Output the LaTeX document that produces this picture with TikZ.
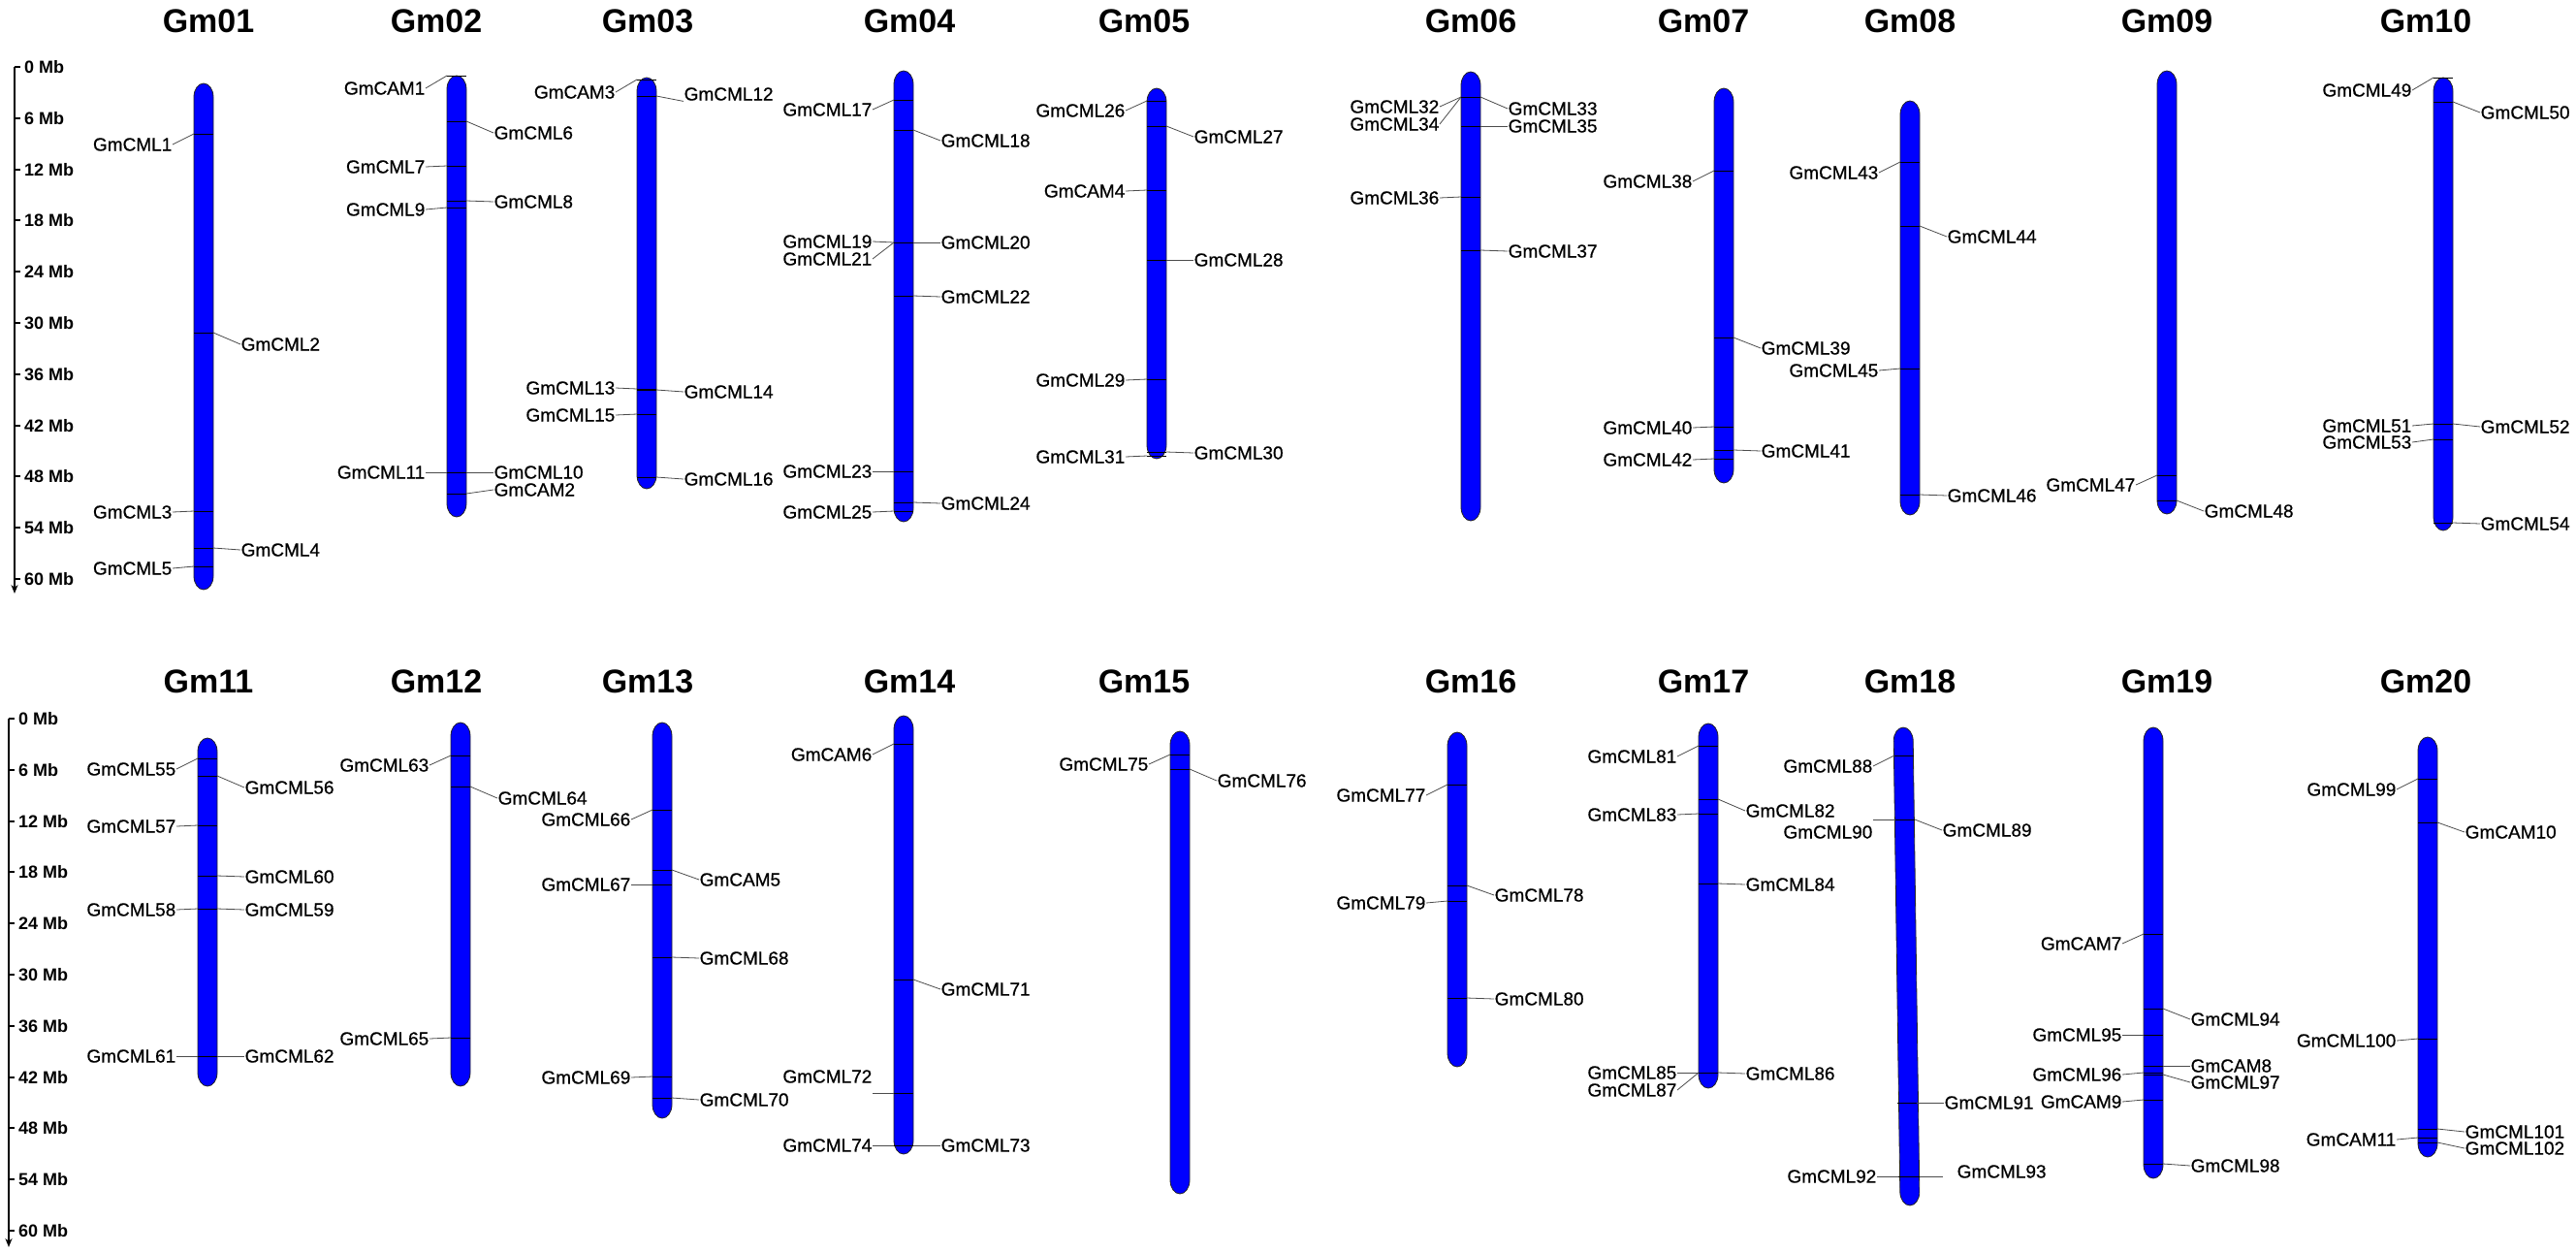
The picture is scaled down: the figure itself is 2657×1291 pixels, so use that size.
\documentclass[tikz,border=0pt]{standalone}
\usepackage{fontspec}
\setmainfont{Liberation Sans}
\newfontfamily\genefont[FakeBold=0.6]{Liberation Sans}
\usepackage{tikz}
\usetikzlibrary{arrows.meta}

% chromosome bar: centre x, top y, bottom y
\newcommand{\chrbar}[3]{%
  \draw[chr] (#1-10,#2+14) arc[start angle=180,end angle=0,x radius=10pt,y radius=14pt]
    -- (#1+10,#3-14) arc[start angle=0,end angle=-180,x radius=10pt,y radius=14pt] -- cycle;}
% gene on the left / right: centre x, gene y, label y, name
\newcommand{\geneL}[4]{%
  \coordinate (a#4) at (#1-10,#2);
  \draw[bandline] (a#4) -- ++(20,0);
  \node[genelabel,anchor=east] (#4) at (#1-32,#3) {#4};
  \draw[genelink] (a#4) -- (#4.east);}
\newcommand{\geneR}[4]{%
  \coordinate (a#4) at (#1+10,#2);
  \draw[bandline] (a#4) -- ++(-20,0);
  \node[genelabel,anchor=west] (#4) at (#1+38,#3) {#4};
  \draw[genelink] (a#4) -- (#4.west);}

\begin{document}
\begin{tikzpicture}[x=1pt,y=-1pt,
  chr/.style={fill=blue,draw=black!85,line width=0.8pt},
  bandline/.style={black,line width=1pt},
  genelink/.style={black!70,line width=0.8pt},
  genelabel/.style={inner sep=0.5pt,font=\genefont\fontsize{19pt}{19pt}\selectfont},
  chrtitle/.style={inner sep=0pt,font=\fontsize{34pt}{34pt}\selectfont\bfseries},
  mbtext/.style={inner sep=0pt,anchor=west,font=\fontsize{18pt}{18pt}\selectfont\bfseries}]
\useasboundingbox (0,0) rectangle (2657,1291);

% scales
\draw[line width=2.5pt,-{Stealth[length=9pt,width=7pt]}] (15,69) -- (15,612);
\foreach \m in {0,6,...,60}{
  \draw[line width=2pt] (15,69+8.8*\m) -- (21,69+8.8*\m);
  \node[mbtext] (ma\m) at (25,69+8.8*\m) {\m\ Mb};}
\draw[line width=2.5pt,-{Stealth[length=9pt,width=7pt]}] (9,741) -- (9,1286);
\foreach \m in {0,6,...,60}{
  \draw[line width=2pt] (9,741+8.8*\m) -- (15,741+8.8*\m);
  \node[mbtext] (mb\m) at (19,741+8.8*\m) {\m\ Mb};}

% titles
\foreach \n/\x in {01/215,02/450,03/668,04/938,05/1180,06/1517,07/1757,08/1970,09/2235,10/2502}
  \node[chrtitle] (t\n) at (\x,22) {Gm\n};
\foreach \n/\x in {11/215,12/450,13/668,14/938,15/1180,16/1517,17/1757,18/1970,19/2235,20/2502}
  \node[chrtitle] (t\n) at (\x,703) {Gm\n};

% chromosomes
\chrbar{210}{86}{608}
\chrbar{471}{78}{533}
\chrbar{667}{80}{504}
\chrbar{932}{73}{538}
\chrbar{1193}{91}{473}
\chrbar{1517}{74}{537}
\chrbar{1778}{91}{498}
\chrbar{1970}{104}{531}
\chrbar{2235}{73}{530}
\chrbar{2520}{80}{547}
\chrbar{214}{761}{1120}
\chrbar{475}{745}{1120}
\chrbar{683}{745}{1153}
\chrbar{932}{738}{1190}
\chrbar{1217}{754}{1231}
\chrbar{1503}{755}{1100}
\chrbar{1762}{746}{1122}
\begin{scope}[rotate around={0.81:(1966.5,996.5)}]
\chrbar{1966.5}{750}{1243}
\end{scope}
\chrbar{2221}{750}{1215}
\chrbar{2504}{760}{1193}

% Gm01
\geneL{210}{138}{149}{GmCML1}
\geneR{210}{343}{355}{GmCML2}
\geneL{210}{527}{528}{GmCML3}
\geneR{210}{565}{567}{GmCML4}
\geneL{210}{584}{586}{GmCML5}
% Gm02
\geneL{471}{78}{91}{GmCAM1}
\geneR{471}{125}{137}{GmCML6}
\geneL{471}{171}{172}{GmCML7}
\geneR{471}{207}{208}{GmCML8}
\geneL{471}{214}{216}{GmCML9}
\geneL{471}{487}{487}{GmCML11}
\geneR{471}{487}{487}{GmCML10}
\geneR{471}{509}{505}{GmCAM2}
% Gm03
\geneL{667}{82}{95}{GmCAM3}
\coordinate (aGmCML12) at (677,99);
\draw[bandline] (aGmCML12) -- ++(-20,0);
\node[genelabel,anchor=west] (GmCML12) at (705,97) {GmCML12};
\draw[genelink] (aGmCML12) -- (GmCML12.south west);
\geneL{667}{401}{400}{GmCML13}
\geneR{667}{402}{404}{GmCML14}
\geneL{667}{427}{428}{GmCML15}
\geneR{667}{492}{494}{GmCML16}
% Gm04
\geneL{932}{103}{113}{GmCML17}
\geneR{932}{134}{145}{GmCML18}
\geneL{932}{250}{249}{GmCML19}
\geneL{932}{250}{267}{GmCML21}
\geneR{932}{250}{250}{GmCML20}
\geneR{932}{305}{306}{GmCML22}
\geneL{932}{486}{486}{GmCML23}
\geneR{932}{518}{519}{GmCML24}
\geneL{932}{527}{528}{GmCML25}
% Gm05
\geneL{1193}{104}{114}{GmCML26}
\geneR{1193}{130}{141}{GmCML27}
\geneL{1193}{196}{197}{GmCAM4}
\geneR{1193}{268}{268}{GmCML28}
\geneL{1193}{391}{392}{GmCML29}
\geneR{1193}{466}{467}{GmCML30}
\geneL{1193}{470}{471}{GmCML31}
% Gm06
\geneL{1517}{100}{110}{GmCML32}
\geneL{1517}{100}{128}{GmCML34}
\geneR{1517}{100}{112}{GmCML33}
\geneR{1517}{130}{130}{GmCML35}
\geneL{1517}{203}{204}{GmCML36}
\geneR{1517}{258}{259}{GmCML37}
% Gm07
\geneL{1778}{176}{187}{GmCML38}
\geneR{1778}{348}{359}{GmCML39}
\geneL{1778}{440}{441}{GmCML40}
\geneR{1778}{464}{465}{GmCML41}
\geneL{1778}{473}{474}{GmCML42}
% Gm08
\geneL{1970}{167}{178}{GmCML43}
\geneR{1970}{233}{244}{GmCML44}
\geneL{1970}{380}{382}{GmCML45}
\geneR{1970}{510}{511}{GmCML46}
% Gm09
\geneL{2235}{490}{500}{GmCML47}
\geneR{2235}{516}{527}{GmCML48}
% Gm10
\geneL{2520}{80}{93}{GmCML49}
\geneR{2520}{105}{116}{GmCML50}
\geneL{2520}{437}{439}{GmCML51}
\geneR{2520}{437}{440}{GmCML52}
\geneL{2520}{453}{456}{GmCML53}
\geneR{2520}{539}{540}{GmCML54}

% Gm11
\geneL{214}{782}{793}{GmCML55}
\geneR{214}{800}{812}{GmCML56}
\geneL{214}{851}{852}{GmCML57}
\geneR{214}{903}{904}{GmCML60}
\geneL{214}{937}{938}{GmCML58}
\geneR{214}{937}{938}{GmCML59}
\geneL{214}{1089}{1089}{GmCML61}
\geneR{214}{1089}{1089}{GmCML62}
% Gm12
\geneL{475}{779}{789}{GmCML63}
\geneR{475}{811}{823}{GmCML64}
\geneL{475}{1070}{1071}{GmCML65}
% Gm13
\geneL{683}{835}{845}{GmCML66}
\geneR{683}{897}{907}{GmCAM5}
\geneL{683}{912}{912}{GmCML67}
\geneR{683}{987}{988}{GmCML68}
\geneL{683}{1110}{1111}{GmCML69}
\geneR{683}{1132}{1134}{GmCML70}
% Gm14
\geneL{932}{767}{778}{GmCAM6}
\geneR{932}{1010}{1020}{GmCML71}
\coordinate (aGmCML72) at (922,1127);
\draw[bandline] (aGmCML72) -- ++(20,0);
\node[genelabel,anchor=east] (GmCML72) at (900,1110) {GmCML72};
\draw[genelink] (aGmCML72) -- (GmCML72.east |- aGmCML72);
\geneL{932}{1181}{1181}{GmCML74}
\geneR{932}{1181}{1181}{GmCML73}
% Gm15
\geneL{1217}{778}{788}{GmCML75}
\geneR{1217}{793}{805}{GmCML76}
% Gm16
\geneL{1503}{809}{820}{GmCML77}
\geneR{1503}{913}{923}{GmCML78}
\geneL{1503}{929}{931}{GmCML79}
\geneR{1503}{1029}{1030}{GmCML80}
% Gm17
\geneL{1762}{769}{780}{GmCML81}
\geneR{1762}{824}{836}{GmCML82}
\geneL{1762}{839}{840}{GmCML83}
\geneR{1762}{911}{912}{GmCML84}
\geneL{1762}{1106}{1106}{GmCML85}
\geneL{1762}{1106}{1124}{GmCML87}
\geneR{1762}{1106}{1107}{GmCML86}
% Gm18
\geneL{1964}{779}{790}{GmCML88}
\coordinate (aGmCML90) at (1955,845);
\draw[bandline] (aGmCML90) -- ++(20,0);
\node[genelabel,anchor=east] (GmCML90) at (1932,858) {GmCML90};
\draw[genelink] (aGmCML90) -- (GmCML90.east |- aGmCML90);
\geneR{1965}{845}{856}{GmCML89}
\geneR{1967}{1137}{1137}{GmCML91}
\geneL{1968}{1213}{1213}{GmCML92}
\coordinate (aGmCML93) at (1980,1213);
\coordinate (eGmCML93) at (2004,1213);
\draw[bandline] (aGmCML93) -- ++(-20,0);
\draw[genelink] (aGmCML93) -- (eGmCML93);
\node[genelabel,anchor=west] (GmCML93) at (2018,1208) {GmCML93};
% Gm19
\geneL{2221}{963}{973}{GmCAM7}
\geneR{2221}{1040}{1051}{GmCML94}
\geneL{2221}{1067}{1067}{GmCML95}
\geneR{2221}{1099}{1099}{GmCAM8}
\geneL{2221}{1106}{1108}{GmCML96}
\geneR{2221}{1108}{1116}{GmCML97}
\geneL{2221}{1134}{1136}{GmCAM9}
\geneR{2221}{1200}{1202}{GmCML98}
% Gm20
\geneL{2504}{803}{814}{GmCML99}
\geneR{2504}{848}{858}{GmCAM10}
\geneL{2504}{1071}{1073}{GmCML100}
\geneR{2504}{1164}{1167}{GmCML101}
\geneL{2504}{1173}{1175}{GmCAM11}
\geneR{2504}{1178}{1184}{GmCML102}
\end{tikzpicture}
\end{document}
